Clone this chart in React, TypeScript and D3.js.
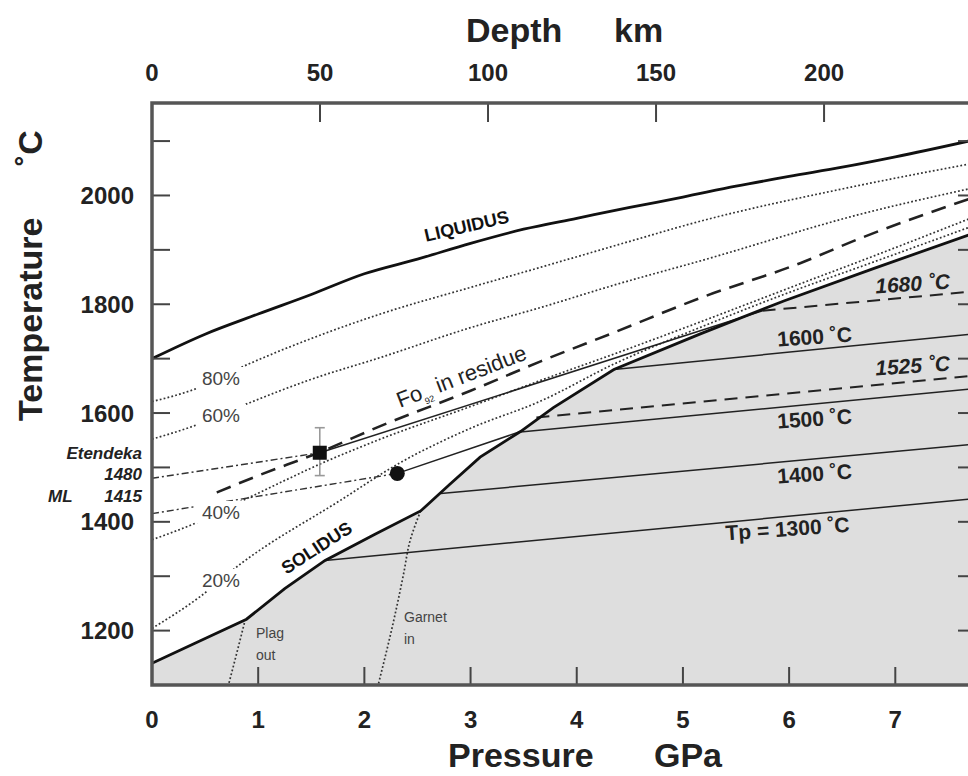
import React from 'react';
import * as d3 from 'd3';

// pressure (GPa), temperature (°C)
const liquidus: [number, number][] = [[0, 1700], [0.5, 1745], [1, 1782], [1.5, 1818], [2, 1856], [2.5, 1883], [3, 1912], [3.5, 1938], [4, 1958], [4.5, 1978], [5, 1997], [5.5, 2017], [6, 2035], [6.5, 2052], [7, 2071], [7.76, 2103]];
const solidus: [number, number][] = [[0, 1140], [0.45, 1181], [0.89, 1221], [1.25, 1277], [1.63, 1329], [2.1, 1377], [2.53, 1420], [2.8, 1468], [3.09, 1519], [3.47, 1566], [3.78, 1610], [4.35, 1680], [5.17, 1746], [5.95, 1806], [6.8, 1866], [7.76, 1932]];
const melt80: [number, number][] = [[0, 1621], [0.39, 1643], [0.92, 1691], [1.5, 1737], [2.15, 1782], [3, 1831], [3.66, 1868], [4.4, 1910], [5.17, 1953], [6.5, 2012], [7.76, 2060]];
const melt60: [number, number][] = [[0, 1552], [0.39, 1576], [0.92, 1619], [1.5, 1662], [2.15, 1702], [3, 1757], [3.66, 1794], [4.4, 1838], [5.17, 1880], [6.68, 1966], [7.76, 2015]];
const melt40: [number, number][] = [[0, 1367], [0.39, 1396], [0.95, 1448], [1.65, 1512], [2.15, 1552], [3, 1612], [3.66, 1660], [4.4, 1712], [5.17, 1768], [6.11, 1838], [6.68, 1880], [7.76, 1962]];
const melt20: [number, number][] = [[0, 1204], [0.45, 1262], [0.83, 1322], [1.77, 1439], [2.34, 1509], [3, 1572], [3.66, 1622], [4.35, 1690], [5.17, 1758], [5.95, 1818], [6.8, 1878], [7.76, 1946]];
const foResidue: [number, number][] = [[0.61, 1454], [1, 1485], [1.58, 1528], [2.15, 1576], [3, 1641], [3.66, 1695], [4.35, 1748], [5.17, 1812], [6.11, 1876], [6.68, 1922], [7.76, 1998]];
const plagOut: [number, number][] = [[0.87, 1214], [0.8, 1160], [0.72, 1100]];
const garnetIn: [number, number][] = [[2.53, 1420], [2.43, 1365], [2.37, 1305], [2.27, 1213], [2.13, 1100]];

const etendekaTrend: [number, number][] = [[0, 1480], [1.58, 1527]];
const mlTrend: [number, number][] = [[0, 1415], [2.31, 1489]];
const etendekaPath: [number, number][] = [[1.58, 1527], [5.75, 1788]];
const mlPath: [number, number][] = [[2.31, 1489], [3.47, 1566]];
const etendeka = { p: 1.58, t: 1527, lo: 1485, hi: 1573 };
const ml = { p: 2.31, t: 1489 };

// potential temperature adiabats below the solidus
const adiabats = [
  { tp: 1300, dashed: false, from: [1.63, 1329], to: [7.76, 1443] },
  { tp: 1400, dashed: false, from: [2.72, 1452], to: [7.76, 1543] },
  { tp: 1500, dashed: false, from: [3.47, 1565], to: [7.76, 1645] },
  { tp: 1525, dashed: true, from: [3.62, 1592], to: [7.76, 1669] },
  { tp: 1600, dashed: false, from: [4.35, 1680], to: [7.76, 1746] },
  { tp: 1680, dashed: true, from: [5.75, 1788], to: [7.76, 1824] },
];

const tempTicks = [1200, 1300, 1400, 1500, 1600, 1700, 1800, 1900, 2000, 2100];
const tempLabels = [1200, 1400, 1600, 1800, 2000];
const pressureTicks = [1, 2, 3, 4, 5, 6, 7];
const pressureLabels = [0, 1, 2, 3, 4, 5, 6, 7];
const depthTicks = [50, 100, 150, 200];
const depthLabels = [0, 50, 100, 150, 200];

const FONT = "'Liberation Sans', Arial, Helvetica, sans-serif";

const App = () => {
  const left = 152, right = 976, top = 103, bottom = 685;
  const x = d3.scaleLinear().domain([0, 7.76]).range([left, right]);
  const y = d3.scaleLinear().domain([1100, 2170]).range([bottom, top]);
  const depth = d3.scaleLinear().domain([0, 7.76 * 31.6]).range([left, right]);

  const smooth = d3.line<[number, number]>().x(d => x(d[0])).y(d => y(d[1])).curve(d3.curveMonotoneX);
  const straight = d3.line<[number, number]>().x(d => x(d[0])).y(d => y(d[1]));
  const steep = d3.line<[number, number]>().x(d => x(d[0])).y(d => y(d[1])).curve(d3.curveMonotoneY);
  const fill = d3.area<[number, number]>().x(d => x(d[0])).y0(bottom).y1(d => y(d[1]));

  const dotted = { fill: 'none', stroke: '#333', strokeWidth: 1.7, strokeDasharray: '1.8 2.2' };
  const dashDot = { fill: 'none', stroke: '#333', strokeWidth: 1.4, strokeDasharray: '7 3 2 3' };

  const pctLabels = [
    { txt: '80%', cx: 221, cy: 378 },
    { txt: '60%', cx: 221, cy: 415 },
    { txt: '40%', cx: 221, cy: 512 },
    { txt: '20%', cx: 221, cy: 580 },
  ];

  const tpLabels = [
    { txt: 'Tp = 1300 ˚C', cx: 788, cy: 528, italic: false },
    { txt: '1400 ˚C', cx: 815, cy: 473, italic: false },
    { txt: '1500 ˚C', cx: 815, cy: 418, italic: false },
    { txt: '1525 ˚C', cx: 913, cy: 365, italic: true },
    { txt: '1600 ˚C', cx: 815, cy: 336, italic: false },
    { txt: '1680 ˚C', cx: 913, cy: 283, italic: true },
  ];

  return (
    <div style={{ position: 'absolute', left: 0, top: 0 }}>
      <svg width={968} height={776} style={{ display: 'block', background: '#fff' }} fontFamily={FONT}>
        <defs>
          <clipPath id="plot">
            <rect x={left} y={top} width={right - left} height={bottom - top} />
          </clipPath>
        </defs>

        <g clipPath="url(#plot)">
          <path d={fill(solidus) || ''} fill="#dedede" />

          <path d={smooth(melt80) || ''} {...dotted} />
          <path d={smooth(melt60) || ''} {...dotted} />
          <path d={smooth(melt40) || ''} {...dotted} />
          <path d={smooth(melt20) || ''} {...dotted} />
          <path d={steep(plagOut) || ''} {...dotted} />
          <path d={steep(garnetIn) || ''} {...dotted} />

          {adiabats.map(a => (
            <line key={a.tp} x1={x(a.from[0])} y1={y(a.from[1])} x2={x(a.to[0])} y2={y(a.to[1])}
              stroke="#222" strokeWidth={a.dashed ? 2 : 1.5} strokeDasharray={a.dashed ? '13 8' : undefined} />
          ))}

          <path d={smooth(foResidue) || ''} fill="none" stroke="#222" strokeWidth={2.6} strokeDasharray="15 9" />

          <path d={straight(etendekaTrend) || ''} {...dashDot} />
          <path d={straight(mlTrend) || ''} {...dashDot} />
          <path d={straight(etendekaPath) || ''} fill="none" stroke="#222" strokeWidth={1.5} />
          <path d={straight(mlPath) || ''} fill="none" stroke="#222" strokeWidth={1.5} />

          <path d={smooth(liquidus) || ''} fill="none" stroke="#111" strokeWidth={2.8} />
          <path d={straight(solidus) || ''} fill="none" stroke="#111" strokeWidth={2.8} />
        </g>

        {/* melt fraction labels */}
        {pctLabels.map(l => (
          <g key={l.txt}>
            <rect x={l.cx - 25} y={l.cy - 11} width={50} height={22} fill="#fff" />
            <text x={l.cx} y={l.cy + 7} textAnchor="middle" fontSize={19} fill="#444">{l.txt}</text>
          </g>
        ))}

        {/* Etendeka square with error bar */}
        <g stroke="#999" strokeWidth={1.6}>
          <line x1={x(etendeka.p)} x2={x(etendeka.p)} y1={y(etendeka.hi)} y2={y(etendeka.lo)} />
          <line x1={x(etendeka.p) - 5} x2={x(etendeka.p) + 5} y1={y(etendeka.hi)} y2={y(etendeka.hi)} />
          <line x1={x(etendeka.p) - 5} x2={x(etendeka.p) + 5} y1={y(etendeka.lo)} y2={y(etendeka.lo)} />
        </g>
        <rect x={x(etendeka.p) - 7} y={y(etendeka.t) - 7} width={14} height={14} fill="#111" />
        <circle cx={x(ml.p)} cy={y(ml.t)} r={7.5} fill="#111" />

        {/* curve labels */}
        <text transform="translate(468,232) rotate(-13)" textAnchor="middle" fontSize={18} fontWeight="bold" fill="#111">LIQUIDUS</text>
        <text transform="translate(320,553) rotate(-33)" textAnchor="middle" fontSize={18} fontWeight="bold" fill="#111">SOLIDUS</text>
        <text transform="translate(400,408) rotate(-21)" fontSize={22} fill="#222">
          Fo<tspan fontSize={9} dy={6}>92</tspan><tspan dy={-6}> in residue</tspan>
        </text>
        <g fontSize={14} fill="#444">
          <text x={256} y={638}>Plag</text>
          <text x={256} y={660}>out</text>
          <text x={404} y={622}>Garnet</text>
          <text x={404} y={644}>in</text>
        </g>

        {tpLabels.map(l => (
          <text key={l.txt} transform={`translate(${l.cx},${l.cy + 8}) rotate(-4)`} textAnchor="middle"
            fontSize={21} fontWeight="bold" fontStyle={l.italic ? 'italic' : 'normal'} fill="#222">{l.txt}</text>
        ))}

        {/* Etendeka / ML labels */}
        <g fontSize={17} fontWeight="bold" fontStyle="italic" fill="#222">
          <text x={142} y={459} textAnchor="end">Etendeka</text>
          <text x={142} y={480} textAnchor="end">1480</text>
          <text x={48} y={502}>ML</text>
          <text x={142} y={502} textAnchor="end">1415</text>
        </g>

        {/* frame and ticks */}
        <g stroke="#444" strokeWidth={2}>
          {tempTicks.map(t => (
            <g key={t}>
              <line x1={left} x2={left + 18} y1={y(t)} y2={y(t)} />
              <line x1={right} x2={right - 18} y1={y(t)} y2={y(t)} />
            </g>
          ))}
          {pressureTicks.map(p => (
            <line key={p} x1={x(p)} x2={x(p)} y1={bottom} y2={bottom - 18} />
          ))}
          {depthTicks.map(d => (
            <line key={d} x1={depth(d)} x2={depth(d)} y1={top} y2={top + 19} />
          ))}
        </g>
        <rect x={left} y={top} width={right - left} height={bottom - top} fill="none" stroke="#555" strokeWidth={3.5} />

        {/* tick labels */}
        <g fontSize={24} fontWeight="bold" fill="#222">
          {tempLabels.map(t => (
            <text key={t} x={134} y={y(t) + 8.5} textAnchor="end">{t}</text>
          ))}
          {pressureLabels.map(p => (
            <text key={p} x={x(p)} y={728} textAnchor="middle">{p}</text>
          ))}
          {depthLabels.map(d => (
            <text key={d} x={depth(d)} y={81} textAnchor="middle">{d}</text>
          ))}
        </g>

        {/* axis titles */}
        <g fontSize={34} fontWeight="bold" fill="#222">
          <text x={466} y={42}>Depth</text>
          <text x={614} y={42}>km</text>
          <text x={448} y={767}>Pressure</text>
          <text x={654} y={767}>GPa</text>
          <text transform="translate(42,421) rotate(-90)">Temperature</text>
          <text transform="translate(42,166) rotate(-90)">˚C</text>
        </g>
      </svg>
    </div>
  );
};

export default App;
